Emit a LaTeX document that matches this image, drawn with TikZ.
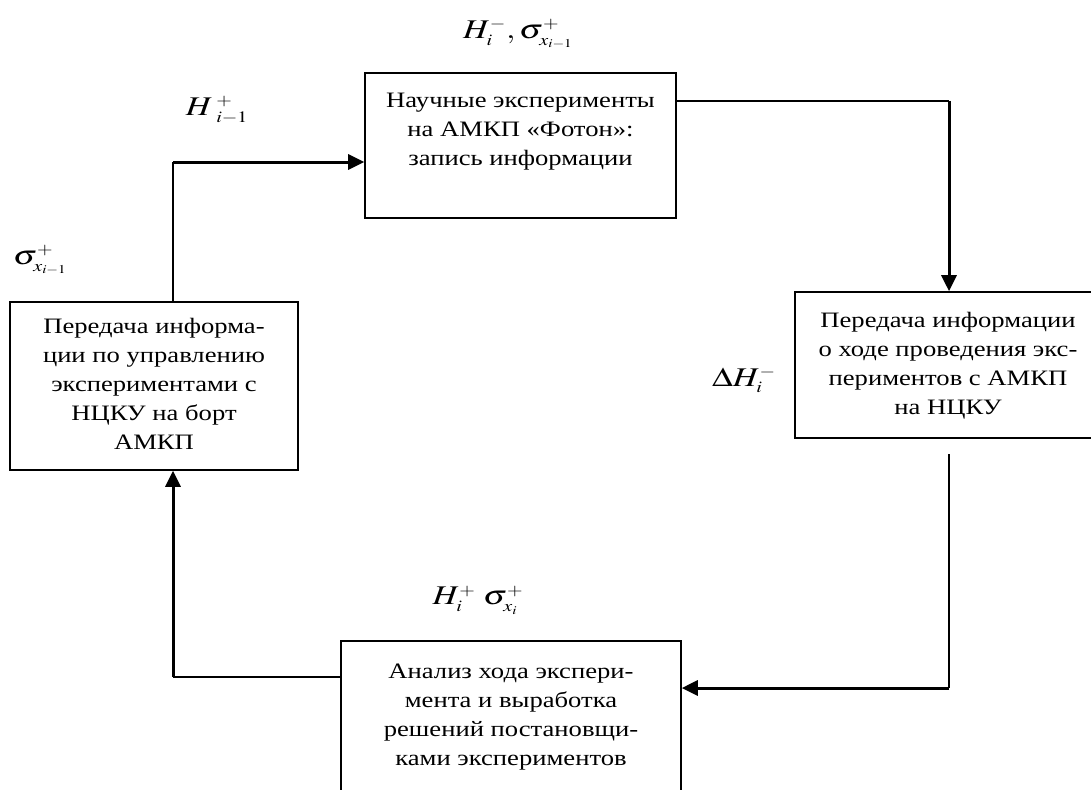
\documentclass[tikz,border=0pt]{standalone}
\usepackage{mathptmx}
\usepackage{fontspec}
\setmainfont{Liberation Serif}[FakeStretch=1.21]
\usepackage{graphicx}
\usetikzlibrary{arrows.meta,calc}
\DeclareMathSizes{27}{27}{16}{12}
\tikzset{
  box/.style={draw, line width=1.6pt, inner sep=0pt, font=\fontsize{22}{29}\selectfont},
  thinline/.style={line width=1.6pt},
  thickline/.style={line width=3pt, -{Triangle[length=16pt,width=15pt]}},
  lbl/.style={inner sep=0pt, font=\fontsize{27}{27}\selectfont},
}
\newcommand{\boxtxt}[2]{\parbox{#1}{\centering\strut #2\strut}}
\newcommand{\mlab}[1]{\scalebox{1.25}[1]{$#1$}}
\begin{document}
\begin{tikzpicture}[x=1pt,y=-1pt]
\useasboundingbox (0,0) rectangle (1091,789);
% boxes
\node[box, minimum width=311, minimum height=145] (tb) at (520.5,145.5)
  {\boxtxt{311pt}{Научные эксперименты\\на АМКП «Фотон»:\\запись информации\\}};
\node[box, minimum width=288, minimum height=168] (lb) at (154,386)
  {\boxtxt{288pt}{Передача информа-\\ции по управлению\\экспериментами с\\НЦКУ на борт\\АМКП}};
\node[box, minimum width=306, minimum height=146] (rb) at (948,365)
  {\boxtxt{306pt}{Передача информации\\о ходе проведения экс-\\периментов с АМКП\\на НЦКУ}};
\node[box, minimum width=340, minimum height=150] (bb) at (511,716)
  {\boxtxt{340pt}{Анализ хода экспери-\\мента и выработка\\решений постановщи-\\ками экспериментов}};
% corner points
\coordinate (c1) at (173,162);
\coordinate (c2) at (949,101);
\coordinate (c3) at (949,454);
\coordinate (c4) at (949,688);
\coordinate (c5) at (173,677);
% connectors
\draw[thinline] (lb.north -| c1) -- (c1);
\draw[thickline] (c1) -- (tb.west |- c1);
\draw[thinline] (tb.east |- c2) -- (c2);
\draw[thickline] (c2) -- (rb.north -| c2);
\draw[thinline] (c3) -- (c4);
\draw[thickline] (c4) -- (bb.east |- c4);
\draw[thinline] (bb.west |- c5) -- (c5);
\draw[thickline] (c5) -- (lb.south -| c5);
% labels
\node[lbl] (l1) at (518,34) {\mlab{H_i^{-},\sigma^{+}_{x_{i-1}}}};
\node[lbl] (l2) at (217,110) {\mlab{H\,{}^{+}_{i-1}}};
\node[lbl] (l3) at (40,260) {\mlab{\sigma^{+}_{x_{i-1}}}};
\node[lbl] (l4) at (744,380) {\mlab{\Delta H_i^{-}}};
\node[lbl] (l5) at (478,600) {\mlab{H_i^{+}\;\sigma^{+}_{x_i}}};
\end{tikzpicture}
\end{document}
